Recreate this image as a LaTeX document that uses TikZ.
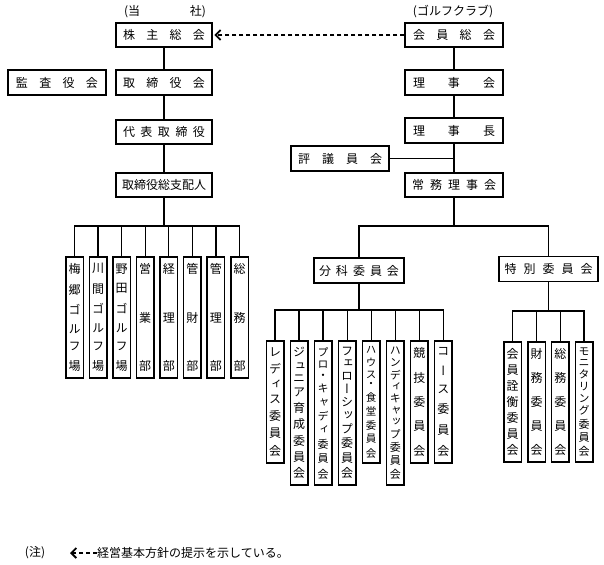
\documentclass[tikz,border=0pt]{standalone}
\usepackage{fontspec}
\usetikzlibrary{arrows.meta}
\newfontfamily\jp{Noto Sans CJK JP}
\newfontfamily\jpv[RawFeature=+vert]{Noto Sans CJK JP}
\newcommand\hsp[2]{\hbox to #1{\foreach \vv [count=\vi] in {#2}{\ifnum\vi>1 \hfill\fi\vv}}}
\newcommand\vsp[2]{\vbox to #1{\offinterlineskip\foreach \vv [count=\vi] in {#2}{\ifnum\vi>1 \vfill\fi\hbox to 13pt{\hss\vv\hss}}}}
\begin{document}
\begin{tikzpicture}[x=1pt,y=-1pt,
  hb/.style={draw, line width=1.5pt, inner sep=0pt, minimum height=24pt, font=\jp\fontsize{12}{14}\selectfont},
  vb/.style={draw, line width=1.5pt, inner sep=0pt, minimum width=17.5pt, font=\jpv\fontsize{12}{14}\selectfont},
  vbs/.style={vb, font=\jpv\fontsize{11}{13}\selectfont},
  vbxs/.style={vb, font=\jpv\fontsize{10.5}{12}\selectfont},
  lbl/.style={inner sep=0pt, font=\jp\fontsize{12}{14}\selectfont},
  conn/.style={line width=1.3pt},
  thinconn/.style={line width=1pt},
  dasharrow/.style={line width=1.3pt, dash pattern=on 4pt off 3pt, -{Straight Barb[length=5pt,width=10pt,line width=1.8pt]}}]
\useasboundingbox (0,0) rectangle (604,564);

% ---------- company side ----------
\node[lbl] (toujou) at (165,12) {\hsp{82pt}{{(当},{社)}}};
\node[hb, minimum width=96pt] (kabu) at (164,35) {\hsp{82pt}{株,主,総,会}};
\node[hb, minimum width=98pt, minimum height=25pt] (kansa) at (57,82.5) {\hsp{82pt}{監,査,役,会}};
\node[hb, minimum width=96pt, minimum height=25pt] (tori) at (164,82.5) {\hsp{82pt}{取,締,役,会}};
\node[hb, minimum width=96pt] (daihyo) at (164,132) {\hsp{82pt}{代,表,取,締,役}};
\node[hb, minimum width=96pt] (shihai) at (164,185) {取締役総支配人};

\node[vb, minimum height=121pt] (l1) at (74.5,317.5) {\vsp{107pt}{梅,郷,ゴ,ル,フ,場}};
\node[vb, minimum height=121pt] (l2) at (98.1,317.5) {\vsp{107pt}{川,間,ゴ,ル,フ,場}};
\node[vb, minimum height=121pt] (l3) at (121.6,317.5) {\vsp{107pt}{野,田,ゴ,ル,フ,場}};
\node[vb, minimum height=121pt] (l4) at (145.2,317.5) {\vsp{107pt}{営,業,部}};
\node[vb, minimum height=121pt] (l5) at (168.8,317.5) {\vsp{107pt}{経,理,部}};
\node[vb, minimum height=121pt] (l6) at (192.4,317.5) {\vsp{107pt}{管,財,部}};
\node[vb, minimum height=121pt] (l7) at (215.9,317.5) {\vsp{107pt}{管,理,部}};
\node[vb, minimum height=121pt] (l8) at (239.5,317.5) {\vsp{107pt}{総,務,部}};

\coordinate (jL) at (164,226);
\draw[conn] (kabu) -- (tori);
\draw[conn] (tori) -- (daihyo);
\draw[conn] (daihyo) -- (shihai);
\draw[conn] (shihai.south) -- (jL);
\draw[conn] (l1.north) |- (jL) -| (l8.north);
\foreach \n in {l2,l3,l4,l5,l6,l7} \draw[conn] (\n.north) -- (\n.north |- jL);

% ---------- golf club side ----------
\node[lbl] (golf) at (453,12) {(ゴルフクラブ)};
\node[hb, minimum width=98pt] (kaiin) at (454,35) {\hsp{82pt}{会,員,総,会}};
\node[hb, minimum width=98pt, minimum height=25pt] (rijikai) at (454,82.5) {\hsp{82pt}{理,事,会}};
\node[hb, minimum width=98pt, minimum height=25pt] (rijicho) at (454,130.5) {\hsp{82pt}{理,事,長}};
\node[hb, minimum width=98pt, minimum height=25pt] (hyogi) at (340,158.5) {\hsp{84pt}{評,議,員,会}};
\node[hb, minimum width=98pt] (jomu) at (454,185) {\hsp{84pt}{常,務,理,事,会}};
\node[hb, minimum width=90pt, minimum height=25pt] (bunka) at (359,270.5) {\hsp{80pt}{分,科,委,員,会}};
\node[hb, minimum width=99pt, minimum height=25pt] (toku) at (548.5,269) {\hsp{88pt}{特,別,委,員,会}};

\node[vb, minimum height=122pt] (m1) at (275,402) {\vsp{108pt}{レ,デ,ィ,ス,委,員,会}};
\node[vb, minimum height=144pt] (m2) at (299,413) {\vsp{130pt}{ジ,ュ,ニ,ア,育,成,委,員,会}};
\node[vbs, minimum height=144pt] (m3) at (323.1,413) {\vsp{131pt}{プ,ロ,・,キ,ャ,デ,ィ,委,員,会}};
\node[vb, minimum height=144pt] (m4) at (347.2,413) {\vsp{130pt}{フ,ェ,ロ,ー,シ,ッ,プ,委,員,会}};
\node[vbxs, minimum height=122pt] (m5) at (371.2,402) {\vsp{111pt}{ハ,ウ,ス,・,食,堂,委,員,会}};
\node[vbs, minimum height=144pt] (m6) at (395.3,413) {\vsp{131pt}{ハ,ン,デ,ィ,キ,ャ,ッ,プ,委,員,会}};
\node[vb, minimum height=122pt] (m7) at (419.3,402) {\vsp{108pt}{競,技,委,員,会}};
\node[vb, minimum height=122pt] (m8) at (443.3,402) {\vsp{108pt}{コ,ー,ス,委,員,会}};

\node[vb, minimum height=120pt] (t1) at (512.7,402) {\vsp{106pt}{会,員,詮,衡,委,員,会}};
\node[vb, minimum height=120pt] (t2) at (536.5,402) {\vsp{106pt}{財,務,委,員,会}};
\node[vb, minimum height=120pt] (t3) at (560.3,402) {\vsp{106pt}{総,務,委,員,会}};
\node[vbs, minimum height=120pt] (t4) at (584,402) {\vsp{107pt}{モ,ニ,タ,リ,ン,グ,委,員,会}};

\coordinate (jR) at (454,226);
\coordinate (jB) at (359,310);
\coordinate (jT) at (548.5,311);
\draw[conn] (kaiin) -- (rijikai);
\draw[conn] (rijikai) -- (rijicho);
\draw[conn] (rijicho) -- (jomu);
\draw[thinconn] (hyogi.east) -- (hyogi.east -| rijicho.south);
\draw[conn] (jomu.south) -- (jR);
\draw[conn] (bunka.north) |- (jR) -| (toku.north);
\draw[conn] (bunka.south) -- (jB);
\draw[conn] (m1.north) |- (jB) -| (m8.north);
\foreach \n in {m2,m3,m4,m5,m6,m7} \draw[conn] (\n.north) -- (\n.north |- jB);
\draw[conn] (toku.south) -- (jT);
\draw[conn] (t1.north) |- (jT) -| (t4.north);
\foreach \n in {t2,t3} \draw[conn] (\n.north) -- (\n.north |- jT);

% ---------- policy arrow ----------
\draw[dasharrow, shorten >=1.5pt] (kaiin.west) -- (kabu.east);

% ---------- note ----------
\node[lbl] (chu) at (35,553) {(注)};
\coordinate (na) at (70,553);
\coordinate (nb) at (97,553);
\draw[dasharrow] (nb) -- (na);
\node[lbl, anchor=west] (note) at (nb) {経営基本方針の提示を示している。};
\end{tikzpicture}
\end{document}
